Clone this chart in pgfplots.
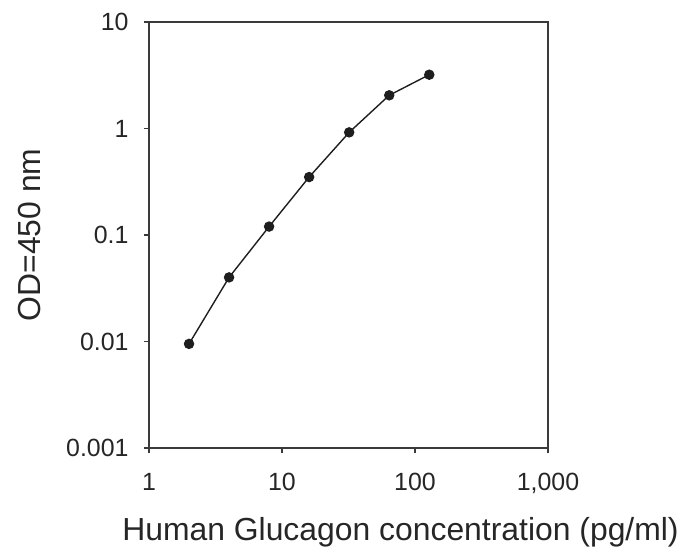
\documentclass[border=0pt]{standalone}
\usepackage{fontspec}
\setmainfont{Liberation Sans}
\usepackage{pgfplots}
\pgfplotsset{compat=1.18}

\definecolor{axisgray}{HTML}{3A3A3A}
\definecolor{linecol}{HTML}{1E1E1E}

\begin{document}
\begin{tikzpicture}
\begin{loglogaxis}[
  name=ax,
  scale only axis,
  width=399bp, height=426bp,
  xmin=1, xmax=1000, ymin=0.001, ymax=10,
  xtick={1,10,100,1000},
  xticklabels={1,10,100,{1,000}},
  ytick={0.001,0.01,0.1,1,10},
  yticklabels={0.001,0.01,0.1,1,10},
  xminorticks=false, yminorticks=false,
  xtick pos=left, ytick pos=left,
  tick align=outside,
  major tick length=5bp,
  axis line style={axisgray, line width=1.3bp},
  every tick/.style={axisgray, line width=1.2bp},
  tick label style={font=\fontsize{25}{30}\selectfont, text=black!85},
  xticklabel style={yshift=-17bp},
  yticklabel style={xshift=-12bp},
  label style={font=\fontsize{32}{38}\selectfont, text=black!85},
  xlabel={Human Glucagon concentration (pg/ml)},
  ylabel={OD=450 nm},
  xlabel style={at={(rel axis cs:0.5,0)}, anchor=center, yshift=-84bp, xshift=52bp},
  ylabel style={at={(rel axis cs:0,0.5)}, anchor=center, rotate=0, yshift=119bp},
]
\addplot[color=linecol, line width=1.4bp, mark=*, mark size=4.5bp,
  mark options={fill=linecol, draw=linecol}] coordinates {
(2,0.0095)
(4,0.040)
(8,0.12)
(16,0.35)
(32,0.92)
(64,2.05)
(128,3.2)
};
\end{loglogaxis}
\pgfresetboundingbox
\path[use as bounding box] ([shift={(-149bp,-108bp)}]ax.south west) rectangle ([shift={(133bp,22bp)}]ax.north east);
\end{tikzpicture}
\end{document}
